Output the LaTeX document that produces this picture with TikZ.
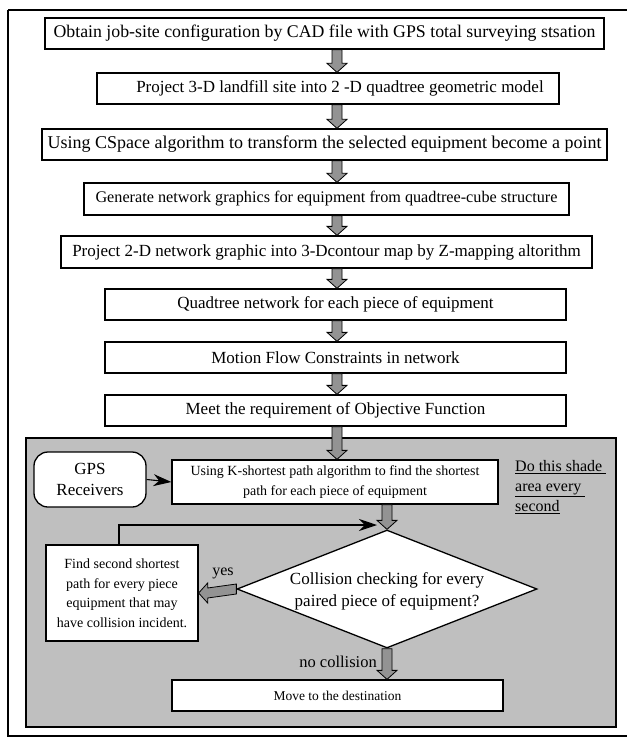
\documentclass[tikz,border=0pt]{standalone}
\usepackage{fontspec}
\setmainfont{Liberation Serif}
\usetikzlibrary{shapes.geometric,calc,arrows.meta}

\begin{document}
\begin{tikzpicture}[x=1pt,y=-1pt,
  stepbox/.style={draw, line width=1.3pt, fill=white, inner sep=0pt,
    font=\fontsize{17}{20}\selectfont},
  smallbox/.style={draw, line width=1.3pt, fill=white, inner sep=0pt, align=center,
    font=\fontsize{14}{19.5}\selectfont},
  blk/.style={draw=black, line width=0.8pt, fill=gray!85, line join=miter},
  downblock/.style={blk, to path={
    ($(\tikztostart)+(-5,0)$) -- ($(\tikztotarget)+(-5,-9)$) -- ($(\tikztotarget)+(-10,-9)$)
    -- (\tikztotarget) -- ($(\tikztotarget)+(10,-9)$) -- ($(\tikztotarget)+(5,-9)$)
    -- ($(\tikztostart)+(5,0)$) -- cycle}},
  leftblock/.style={blk, to path={
    ($(\tikztostart)+(0,-5)$) -- ($(\tikztotarget)+(9,-5)$) -- ($(\tikztotarget)+(9,-10)$)
    -- (\tikztotarget) -- ($(\tikztotarget)+(9,10)$) -- ($(\tikztotarget)+(9,5)$)
    -- ($(\tikztostart)+(0,5)$) -- cycle}},
  thinarrow/.style={line width=1.1pt, -{Stealth[length=18pt,width=12pt]}},
  decision/.style={draw, diamond, line width=1.3pt, fill=white, inner sep=0pt,
    minimum width=300pt, minimum height=118pt}
]
\useasboundingbox (0,0) rectangle (626,743);

% outer frame (its right side runs off the page)
\draw[line width=1.3pt] (8,10) -- (680,10) (8,10) -- (8,736) -- (680,736);

% main sequence of steps
\node[stepbox, minimum width=559pt, minimum height=31pt,
  font=\fontsize{17.8}{20}\selectfont] (b1) at (324.5,33.5)
  {Obtain job-site configuration by CAD file with GPS total surveying stsation};
\node[stepbox, minimum width=462pt, minimum height=31pt] (b2) at (328,88.5)
  {\hspace*{24pt}Project 3-D landfill site into 2 -D quadtree geometric model};
\node[stepbox, minimum width=565pt, minimum height=31pt,
  font=\fontsize{18}{20}\selectfont] (b3) at (324.5,144.5)
  {Using CSpace algorithm to transform the selected equipment become a point};
\node[stepbox, minimum width=485pt, minimum height=32pt,
  font=\fontsize{16.2}{20}\selectfont] (b4) at (326.5,199)
  {Generate network graphics for equipment from quadtree-cube structure};
\node[stepbox, minimum width=531pt, minimum height=32pt] (b5) at (326.5,252)
  {Project 2-D network graphic into 3-Dcontour map by Z-mapping altorithm};
\node[stepbox, minimum width=461pt, minimum height=31pt] (b6) at (335.5,304.5)
  {Quadtree network for each piece of equipment};
\node[stepbox, minimum width=461pt, minimum height=31pt] (b7) at (335.5,357.5)
  {Motion Flow Constraints in network};
\node[stepbox, minimum width=461pt, minimum height=31pt] (b8) at (335.5,410.5)
  {Meet the requirement of Objective Function};

% shaded area repeated every second
\draw[line width=1.3pt, fill=gray!50] (26,438) rectangle (616,727);

\node[draw, line width=1.3pt, fill=white, rounded corners=14pt, inner sep=0pt,
  align=center, minimum width=112pt, minimum height=55pt,
  font=\fontsize{17}{21}\selectfont] (gps) at (90,479.5) {GPS\\Receivers};
\node[smallbox, minimum width=326pt, minimum height=44pt] (kb) at (335,482)
  {Using K-shortest path algorithm to find the shortest\\path for each piece of equipment};
\node[align=left, anchor=north west, inner sep=0pt,
  font=\fontsize{16}{20}\selectfont] (note) at (515,460)
  {\underline{Do this shade\ }\\\underline{area every\ }\\\underline{second}};
\node[decision] (dm) at (387,589) {};
\node[align=center, inner sep=0pt, font=\fontsize{17}{22}\selectfont] (dmt) at (387,591)
  {Collision checking for every\\paired piece of equipment?};
\node[smallbox, minimum width=152pt, minimum height=96pt] (fb) at (122,593)
  {Find second shortest\\path for every piece\\equipment that may\\have collision incident.};
\node[smallbox, minimum width=331pt, minimum height=31pt,
  font=\fontsize{13.5}{16}\selectfont] (mv) at (337.5,695.5) {Move to the destination};

% connectors
\coordinate (ax) at (337,0);
\coordinate (dx) at (387,0);
\draw[downblock] (b1.south -| ax) to (b2.north -| ax);
\draw[downblock] (b2.south -| ax) to (b3.north -| ax);
\draw[downblock] (b3.south -| ax) to (b4.north -| ax);
\draw[downblock] (b4.south -| ax) to (b5.north -| ax);
\draw[downblock] (b5.south -| ax) to (b6.north -| ax);
\draw[downblock] (b6.south -| ax) to (b7.north -| ax);
\draw[downblock] (b7.south -| ax) to (b8.north -| ax);
\draw[downblock] (b8.south -| ax) to (kb.north -| ax);
\draw[downblock] (kb.south -| dx) to (dm.north);
\draw[leftblock] (dm.west) to (fb.east);
\draw[downblock] (dm.south) to (mv.north -| dm.south);

\draw[thinarrow] (gps.east) -- (kb.west);
\coordinate (fbend) at (377,525);
\draw[thinarrow] ([xshift=-3pt]fb.north) |- (fbend);

\node[font=\fontsize{16}{18}\selectfont, inner sep=0pt] (yes) at (223,573) {yes};
\node[font=\fontsize{16.5}{18}\selectfont, inner sep=0pt, anchor=east] (nocol) at (377,662)
  {no collision};
\end{tikzpicture}
\end{document}
